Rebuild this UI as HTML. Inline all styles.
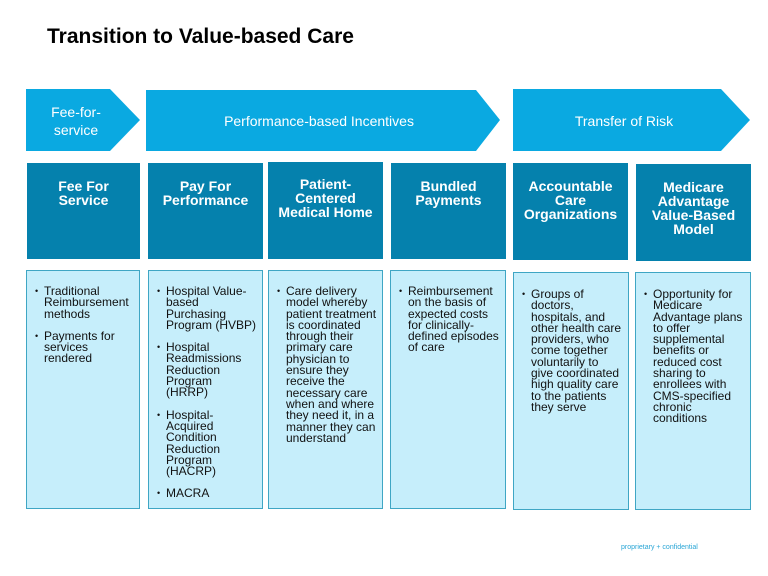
<!DOCTYPE html>
<html><head><meta charset="utf-8"><style>
body{margin:0;width:768px;height:576px;background:#fff;position:relative;font-family:"Liberation Sans",Arial,sans-serif;overflow:hidden}
.a{position:absolute}
.dark{position:absolute;background:#0581ad;color:#fff;font-weight:bold;font-size:14px;line-height:14px;text-align:center;padding-top:16px;box-sizing:border-box}
.light{position:absolute;background:#c6eefb;border:1px solid #3fa6c4;box-sizing:border-box;font-size:12px;line-height:11.3px;color:#111;padding:15px 2px 0 17px;white-space:nowrap}
.light ul{margin:0;padding:0;list-style:none}
.light li{position:relative;margin-bottom:11px}
.light li:before{content:"•";position:absolute;left:-9px;font-size:9px}
.at{position:absolute;color:#fff;font-size:14px;text-align:center;line-height:18px}
</style></head><body>
<div class="a" style="left:47px;top:25px;font-size:21px;font-weight:bold;color:#000">Transition to Value-based Care</div>
<svg class="a" style="left:0;top:0" width="768" height="576">
<polygon points="26,89 110,89 140,120 110,151 26,151" fill="#0aa9e1"/>
<polygon points="146,90 476,90 500,120 476,151 146,151" fill="#0aa9e1"/>
<polygon points="513,89 721,89 750,120 721,151 513,151" fill="#0aa9e1"/>
</svg>
<div class="at" style="left:26px;top:103px;width:100px">Fee-for-<br>service</div>
<div class="at" style="left:146px;top:112px;width:346px">Performance-based Incentives</div>
<div class="at" style="left:513px;top:112px;width:222px">Transfer of Risk</div>

<div class="dark" style="left:27px;top:163px;width:113px;height:96px">Fee For<br>Service</div>
<div class="dark" style="left:148px;top:163px;width:115px;height:96px">Pay For<br>Performance</div>
<div class="dark" style="left:268px;top:162px;width:115px;height:97px;padding-top:15px">Patient-<br>Centered<br>Medical Home</div>
<div class="dark" style="left:391px;top:163px;width:115px;height:96px">Bundled<br>Payments</div>
<div class="dark" style="left:513px;top:163px;width:115px;height:97px">Accountable<br>Care<br>Organizations</div>
<div class="dark" style="left:636px;top:164px;width:115px;height:97px">Medicare<br>Advantage<br>Value-Based<br>Model</div>

<div class="light" style="left:26px;top:270px;width:114px;height:239px"><ul><li>Traditional<br>Reimbursement<br>methods</li><li>Payments for<br>services<br>rendered</li></ul></div>
<div class="light" style="left:148px;top:270px;width:115px;height:239px"><ul><li>Hospital Value-<br>based<br>Purchasing<br>Program (HVBP)</li><li>Hospital<br>Readmissions<br>Reduction<br>Program<br>(HRRP)</li><li>Hospital-<br>Acquired<br>Condition<br>Reduction<br>Program<br>(HACRP)</li><li>MACRA</li></ul></div>
<div class="light" style="left:268px;top:270px;width:115px;height:239px"><ul><li>Care delivery<br>model whereby<br>patient treatment<br>is coordinated<br>through their<br>primary care<br>physician to<br>ensure they<br>receive the<br>necessary care<br>when and where<br>they need it, in a<br>manner they can<br>understand</li></ul></div>
<div class="light" style="left:390px;top:270px;width:116px;height:239px"><ul><li>Reimbursement<br>on the basis of<br>expected costs<br>for clinically-<br>defined episodes<br>of care</li></ul></div>
<div class="light" style="left:513px;top:272px;width:116px;height:238px;padding-top:16px"><ul><li>Groups of<br>doctors,<br>hospitals, and<br>other health care<br>providers, who<br>come together<br>voluntarily to<br>give coordinated<br>high quality care<br>to the patients<br>they serve</li></ul></div>
<div class="light" style="left:635px;top:272px;width:116px;height:238px;padding-top:16px"><ul><li>Opportunity for<br>Medicare<br>Advantage plans<br>to offer<br>supplemental<br>benefits or<br>reduced cost<br>sharing to<br>enrollees with<br>CMS-specified<br>chronic<br>conditions</li></ul></div>

<div class="a" style="left:621px;top:544px;font-size:7px;color:#2aa6d6">proprietary + confidential</div>
</body></html>
